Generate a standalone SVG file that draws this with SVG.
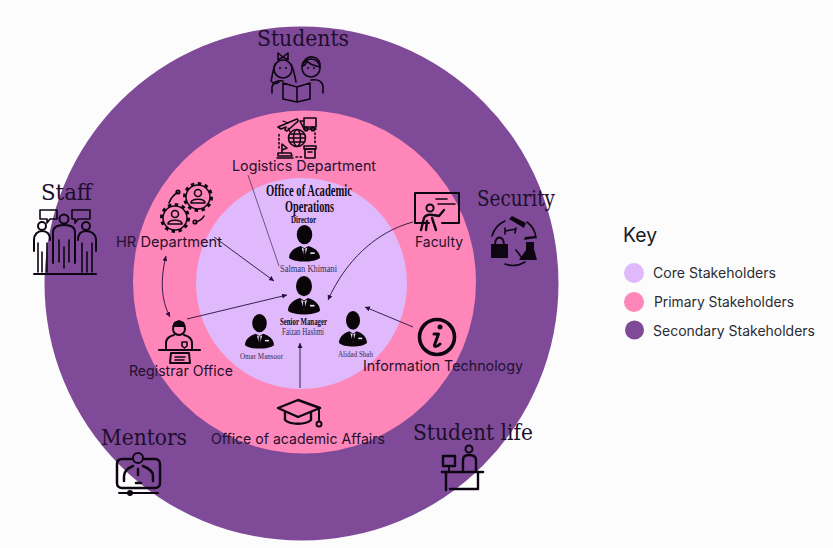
<svg xmlns="http://www.w3.org/2000/svg" width="833" height="548" viewBox="0 0 833 548">
<style>
svg{stroke-width:2}
.lbl{font-family:"Inter","Liberation Sans",sans-serif;fill:#24112f;font-size:14.5px}
.ser{font-family:"DejaVu Serif","Liberation Serif",serif;fill:#1d0e2c;font-size:23px}
.sm{font-family:"Liberation Serif",serif;fill:#3a2c4a;font-size:10px}
.smb{font-family:"Liberation Serif",serif;fill:#120a1c;font-size:10px;font-weight:bold}
.ttl{font-family:"Liberation Serif",serif;fill:#120a1c;font-size:16px;font-weight:bold}
.key{font-family:"Inter","Liberation Sans",sans-serif;fill:#2b2b33;font-size:14px}
.ic{fill:none;stroke:#0d0612;stroke-linecap:round;stroke-linejoin:round}
.th{stroke-width:1.6}
.solid{fill:#0d0612;stroke:none}
.conn{fill:none;stroke:#24103c;stroke-width:.9}
</style>
<defs>
<marker id="ah" markerWidth="7" markerHeight="7" refX="5" refY="2.500" orient="auto-start-reverse" markerUnits="userSpaceOnUse"><path d="M0,0L5,2.500L0,5Z" fill="#24103c"/></marker>
<symbol id="person" viewBox="0 0 32 46" preserveAspectRatio="none" overflow="visible">
<ellipse cx="16" cy="12" rx="8" ry="12" fill="#0a0508"/>
<path d="M0,41C0,33 6,28 12,26L16,29L20,26C26,28 32,33 32,41C26,47 6,47 0,41Z" fill="#0a0508"/>
<path d="M13,28L16,41L19,28L16,30Z" fill="#e8dcef"/>
<path d="M15.200,30H16.800L17.400,38L16,41L14.600,38Z" fill="#0a0508"/>
<rect x="22" y="34" width="4.500" height="2" fill="#e8dcef"/>
</symbol>
</defs>
<rect width="833" height="548" fill="#fcfcfc"/>
<g id="ring-secondary"><circle cx="301.500" cy="283.500" r="257" fill="#7f4a98"/></g>
<g id="ring-primary"><circle cx="304.500" cy="282" r="171.500" fill="#ff86b8"/></g>
<g id="ring-core"><circle cx="301.500" cy="283.500" r="105.500" fill="#dfb9fb"/></g>
<g id="connectors">
<path class="conn" style="stroke-width:.6" d="M248,175L279,266"/>
<path class="conn" d="M214,237L274,281" marker-end="url(#ah)"/>
<path class="conn" d="M187,319L287,295" marker-end="url(#ah)"/>
<path class="conn" d="M413,222C375,232 345,262 328,300" marker-end="url(#ah)"/>
<path class="conn" d="M413,327L365,307" marker-end="url(#ah)"/>
<path class="conn" d="M300,388V343" marker-end="url(#ah)"/>
<path class="conn" d="M166,256C160,280 161,300 170,317" marker-start="url(#ah)" marker-end="url(#ah)"/>
</g>
<g id="node-students">
<text class="ser" x="257" y="46" textLength="92" lengthAdjust="spacingAndGlyphs">Students</text>
<g class="ic th">
<circle cx="283" cy="69" r="9"/><path d="M275,64C272,74 272,78 271,81C274,84 277,84 279,82M291,64C295,72 295,78 296,82"/>
<path d="M278,53L283,57L288,53V60L283,57L278,60Z"/>
<circle cx="311" cy="68" r="9"/><path d="M302,66C303,60 308,56 313,57C318,58 321,62 320,67C316,66 310,65 307,61C306,64 304,66 302,66Z"/>
<path d="M272,93V87C273,82 278,80 283,81M323,93V86C322,81 317,79 311,80"/>
<path d="M283,83L297,87L310,83V99L297,102L283,99ZM297,87V102"/>
</g>
<circle class="solid" cx="280" cy="68" r="1"/><circle class="solid" cx="286" cy="68" r="1"/><circle class="solid" cx="308" cy="68" r="1"/><circle class="solid" cx="314" cy="68" r="1"/>
</g>
<g id="node-logistics">
<text class="lbl" x="232" y="171" textLength="144" lengthAdjust="spacingAndGlyphs">Logistics Department</text>
<g class="ic th">
<path d="M278,127L297,119C299,120 298,122 296,123L287,131L285,130L286,127L281,129Z"/>
<path d="M283,121L288,123M288,128L290,132" stroke-width="1.200"/>
<rect x="304" y="118" width="12" height="9"/><path d="M304,121H300L304,129H316"/><circle cx="306" cy="129" r="1.800"/><circle cx="313" cy="129" r="1.800"/>
<circle cx="297" cy="138" r="8.500"/><ellipse cx="297" cy="138" rx="3.500" ry="8.500"/><path d="M289,138H305M290,134H304M290,142H304"/>
<path d="M279,148V134M315,133V145" stroke-dasharray="1.500 2.500"/>
<rect x="304" y="146" width="12" height="3"/><rect x="305" y="149" width="10" height="9"/><path d="M308,152H312"/>
<path d="M282,153V144L287,148L282,150M278,153H291L292,156H278ZM277,158H293"/>
<path d="M296,157H303" stroke-dasharray="1.500 2.500"/>
</g>
</g>
<g id="node-hr">
<text class="lbl" x="116" y="247" textLength="106" lengthAdjust="spacingAndGlyphs">HR Department</text>
<g class="ic">
<circle cx="198" cy="197" r="13.500" stroke-width="3" stroke-dasharray="3.500 3.500" stroke-linecap="butt"/>
<circle cx="198" cy="197" r="12" stroke-width="1.500"/>
<circle cx="175" cy="218" r="13.500" stroke-width="3" stroke-dasharray="3.500 3.500" stroke-linecap="butt"/>
<circle cx="175" cy="218" r="12" stroke-width="1.500"/>
<circle class="th" cx="198" cy="193" r="3.500"/><path class="th" d="M191,203C191,198 205,198 205,203Z"/>
<circle class="th" cx="175" cy="214" r="3.500"/><path class="th" d="M168,224C168,219 182,219 182,224Z"/>
<path class="th" d="M169,203C171,197 175,194 178,192M204,216C202,220 199,221 196,222"/>
<circle class="th" cx="178" cy="192" r="1.800"/><circle class="th" cx="195" cy="222" r="1.800"/>
</g>
</g>
<g id="node-staff">
<text class="ser" x="41" y="200" textLength="51" lengthAdjust="spacingAndGlyphs">Staff</text>
<g class="ic">
<path class="th" d="M40,210H57V219H50L47,223V219H40ZM72,210H90V219H78L75,223V219H72Z"/>
<circle cx="42" cy="226" r="4"/><circle cx="64" cy="219" r="4.500"/><circle cx="86" cy="226" r="4"/>
<path d="M34,251V240C34,234 38,231 42,231C47,231 50,234 50,240M53,263V232C53,227 58,225 64,225C70,225 75,227 75,232V263M78,240C78,234 81,231 86,231C91,231 96,234 96,240V251"/>
<path class="th" d="M38,243V272M47,243V272M42,252V272M59,240V262M69,240V262M64,247V268M82,243V272M92,243V272M87,252V272"/>
<path d="M34,274H96"/>
</g>
</g>
<g id="node-security">
<text class="ser" x="477" y="206" textLength="78" lengthAdjust="spacingAndGlyphs">Security</text>
<g class="ic">
<path class="th" d="M492,236A23,23 0 0 1 505,221M527,222A23,23 0 0 1 536,238M525,262A23,23 0 0 1 505,264"/>
<path class="solid" d="M509,219L512,216L526,223L524,228Z"/>
<path class="th" d="M505,231L516,229M516,228L515,233M505,228V234"/>
<path d="M495,245C495,235 504,235 504,245"/>
<rect class="solid" x="491" y="244" width="17" height="14"/>
<path class="solid" d="M524,240L536,238L535,236L525,237ZM526,242H534V249L537,260H519L526,250Z"/>
<path class="th" d="M516,250L522,258"/>
</g>
</g>
<g id="node-faculty">
<text class="lbl" x="415" y="247" textLength="48" lengthAdjust="spacingAndGlyphs">Faculty</text>
<g class="ic">
<path d="M429,223H415V193H459V223H442"/>
<path d="M436,199H447M438,204H455" stroke-width="1.600"/>
<circle cx="430" cy="208" r="3.600"/>
<path d="M421,230L424,218C425,215 430,214 433,215L439,216L444,210M432,218L436,230M427,221L426,230" stroke-width="2.400"/>
</g>
</g>
<g id="node-director">
<text class="ttl" x="266" y="196" textLength="86" lengthAdjust="spacingAndGlyphs">Office of Academic</text>
<text class="ttl" x="285" y="212" textLength="49" lengthAdjust="spacingAndGlyphs">Operations</text>
<text class="smb" x="291" y="223" textLength="25" lengthAdjust="spacingAndGlyphs">Director</text>
<use href="#person" x="289" y="225" width="31" height="37"/>
<text class="sm" x="280" y="272" textLength="57" lengthAdjust="spacingAndGlyphs">Salman Khimani</text>
</g>
<g id="node-senior-manager">
<use href="#person" x="288" y="276" width="32" height="39"/>
<text class="smb" x="280" y="325" textLength="47" lengthAdjust="spacingAndGlyphs">Senior Manager</text>
<text class="sm" x="282" y="335" textLength="42" lengthAdjust="spacingAndGlyphs">Faizan Hashmi</text>
</g>
<g id="node-omar">
<use href="#person" x="245" y="314" width="29" height="35"/>
<text class="sm" x="240" y="359" textLength="43" lengthAdjust="spacingAndGlyphs" style="font-size:8px">Omar Mansoor</text>
</g>
<g id="node-alidad">
<use href="#person" x="339" y="311" width="28" height="36"/>
<text class="sm" x="338" y="357" textLength="35" lengthAdjust="spacingAndGlyphs" style="font-size:8px">Alidad Shah</text>
</g>
<g id="node-registrar">
<text class="lbl" x="129" y="376" textLength="104" lengthAdjust="spacingAndGlyphs">Registrar Office</text>
<g class="ic">
<path d="M159,350H200" stroke-width="2.200"/>
<path d="M166,349V343C166,338 170,336 174,335M192,349V343C192,338 188,336 184,335"/>
<circle cx="179" cy="329" r="6"/>
<path d="M171,353H189L190,363H170Z"/><path class="th" d="M175,357H185M175,360H184"/>
<path class="th" d="M182,342H187V346L184.500,348L182,346Z"/>
<path class="solid" d="M172,327L174,322L179,320L184,322L186,327Z"/>
</g>
</g>
<g id="node-it">
<text class="lbl" x="363" y="371" textLength="160" lengthAdjust="spacingAndGlyphs">Information Technology</text>
<g class="ic">
<circle cx="437" cy="337" r="17.500" stroke-width="3.600"/>
<circle class="solid" cx="440" cy="327" r="2.500"/>
<path d="M434,334H438.500L434.500,345C434,347 437,347 440,344" stroke-width="3"/>
</g>
</g>
<g id="node-academic-affairs">
<text class="lbl" x="211" y="444" textLength="174" lengthAdjust="spacingAndGlyphs">Office of academic Affairs</text>
<g class="ic">
<path d="M278,408L298,400L320,408L298,417Z" stroke-width="2.400"/>
<path d="M285,412V420C290,425 306,425 311,420V412" stroke-width="2.400"/>
<path d="M319,409V420"/>
<circle cx="319" cy="424" r="2.500"/>
</g>
</g>
<g id="node-mentors">
<text class="ser" x="101" y="445" textLength="86" lengthAdjust="spacingAndGlyphs">Mentors</text>
<g class="ic">
<path d="M132,459H122C118,459 117,461 117,464V483C117,486 119,488 122,488H155C158,488 160,486 160,483V464C160,461 158,459 155,459H144" stroke-width="2.500"/>
<circle cx="138" cy="458" r="5"/>
<path d="M124,481V476C124,471 128,468 133,466M153,481V476C153,471 148,468 143,466" stroke-width="2.500"/>
<path d="M138,469V475M136,483H141" stroke-width="2.500"/>
<path d="M119,493H158"/>
<circle cx="130" cy="493" r="2" fill="#0d0612"/>
</g>
</g>
<g id="node-student-life">
<text class="ser" x="413" y="440" textLength="120" lengthAdjust="spacingAndGlyphs">Student life</text>
<g class="ic">
<path d="M442,472H483" stroke-width="2.600"/>
<path d="M446,472V490M478,472V489H450" stroke-width="2.400"/>
<rect x="443" y="456" width="12" height="10" stroke-width="2.400"/>
<path d="M449,466V472"/>
<circle cx="469" cy="449" r="3.500"/>
<path d="M463,470V460C463,456 466,455 469,455C472,455 476,456 476,460V470" stroke-width="2.400"/>
</g>
</g>
<g id="key">
<text x="623" y="242" style="font-family:'Inter','Liberation Sans',sans-serif;font-size:20px;fill:#1b1b22" textLength="34" lengthAdjust="spacingAndGlyphs">Key</text>
<circle cx="634" cy="273" r="10" fill="#dfb9fb"/>
<circle cx="634" cy="302" r="10" fill="#ff86b8"/>
<circle cx="634.500" cy="330" r="9.500" fill="#7f4a98"/>
<text class="key" x="653" y="278" textLength="123" lengthAdjust="spacingAndGlyphs">Core Stakeholders</text>
<text class="key" x="654" y="307" textLength="140" lengthAdjust="spacingAndGlyphs">Primary Stakeholders</text>
<text class="key" x="653" y="336" textLength="162" lengthAdjust="spacingAndGlyphs">Secondary Stakeholders</text>
</g>
</svg>
